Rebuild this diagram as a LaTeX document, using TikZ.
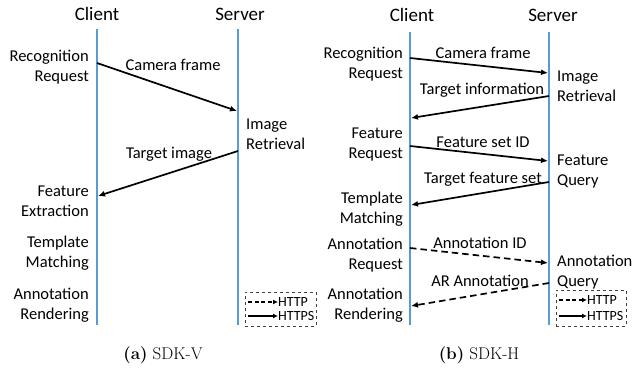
\documentclass[tikz,border=0pt]{standalone}
\usepackage{fontspec}
\setsansfont{Carlito}
\usetikzlibrary{arrows.meta}
\definecolor{lifeblue}{RGB}{91,155,213}
\begin{document}
\begin{tikzpicture}[x=1pt,y=-1pt,
  lifeline/.style={draw=lifeblue,line width=1.9pt},
  msg/.style={draw=black,line width=1.7pt,-{Latex[length=7pt,width=6pt]}},
  httpmsg/.style={msg,dash pattern=on 6.5pt off 4pt},
  lbl/.style={font=\sffamily\fontsize{16.5}{20}\selectfont,inner sep=0pt},
  lblr/.style={lbl,anchor=east,align=right},
  lbll/.style={lbl,anchor=west,align=left},
  ttl/.style={font=\sffamily\fontsize{19}{22}\selectfont,inner sep=0pt},
  legbox/.style={draw=black!75,dashed,line width=0.9pt},
  legarrow/.style={draw=black,line width=1.3pt,-{Latex[length=5pt,width=5pt]}},
  legtext/.style={font=\sffamily\fontsize{14}{16}\selectfont,inner sep=0pt,anchor=west},
  captext/.style={font=\fontsize{17}{20}\selectfont,inner sep=0pt}]
\useasboundingbox (0,0) rectangle (633,373);

% ---------- (a) SDK-V ----------
\node[ttl] (cA) at (97,14) {Client};
\node[ttl] (sA) at (240,14) {Server};
\coordinate (cAt) at (97,29); \coordinate (cAb) at (97,325);
\coordinate (sAt) at (238,29); \coordinate (sAb) at (238,325);
\draw[lifeline] (cAt) -- (cAb);
\draw[lifeline] (sAt) -- (sAb);

\node[lblr] (a1) at (89,67) {Recognition\\Request};
\node[lbll] (a2) at (246,134) {Image\\Retrieval};
\node[lblr] (a3) at (89,201) {Feature\\Extraction};
\node[lblr] (a4) at (89,253) {Template\\Matching};
\node[lblr] (a5) at (89,305) {Annotation\\Rendering};

\coordinate (pA1) at (97,63); \coordinate (qA1) at (237,111);
\coordinate (pA2) at (238,151); \coordinate (qA2) at (98,196);
\draw[msg] (pA1) -- (qA1);
\draw[msg] (pA2) -- (qA2);
\node[lbl] (mA1) at (173,65) {Camera frame};
\node[lbl] (mA2) at (169,154) {Target image};

\node[legbox,minimum width=71pt,minimum height=34pt,inner sep=0pt] (legA) at (280.5,309) {};
\coordinate (lA1s) at (248,302); \coordinate (lA1e) at (278,302);
\coordinate (lA2s) at (248,316); \coordinate (lA2e) at (278,316);
\draw[legarrow,dash pattern=on 4pt off 2.5pt] (lA1s) -- (lA1e);
\draw[legarrow] (lA2s) -- (lA2e);
\node[legtext] (hA1) at (278,302) {HTTP};
\node[legtext] (hA2) at (278,316) {HTTPS};

\node[captext] (capA) at (163,355) {\textbf{(a)} SDK-V};

% ---------- (b) SDK-H ----------
\node[ttl] (cB) at (412,15) {Client};
\node[ttl] (sB) at (553,15) {Server};
\coordinate (cBt) at (410,32); \coordinate (cBb) at (410,325);
\coordinate (sBt) at (549,32); \coordinate (sBb) at (549,325);
\draw[lifeline] (cBt) -- (cBb);
\draw[lifeline] (sBt) -- (sBb);

\node[lblr] (b1) at (403,64) {Recognition\\Request};
\node[lbll] (b2) at (557,86) {Image\\Retrieval};
\node[lblr] (b3) at (403,145) {Feature\\Request};
\node[lbll] (b4) at (557,172) {Feature\\Query};
\node[lblr] (b5) at (403,209) {Template\\Matching};
\node[lblr] (b6) at (403,255) {Annotation\\Request};
\node[lbll] (b7) at (557,272) {Annotation\\Query};
\node[lblr] (b8) at (403,305) {Annotation\\Rendering};

\coordinate (pB1) at (410,58);  \coordinate (qB1) at (548,73);
\coordinate (pB2) at (549,96);  \coordinate (qB2) at (411,118);
\coordinate (pB3) at (410,146); \coordinate (qB3) at (548,161);
\coordinate (pB4) at (549,182); \coordinate (qB4) at (411,205);
\coordinate (pB5) at (410,248); \coordinate (qB5) at (548,263);
\coordinate (pB6) at (549,283); \coordinate (qB6) at (411,306);
\draw[msg] (pB1) -- (qB1);
\draw[msg] (pB2) -- (qB2);
\draw[msg] (pB3) -- (qB3);
\draw[msg] (pB4) -- (qB4);
\draw[httpmsg] (pB5) -- (qB5);
\draw[httpmsg] (pB6) -- (qB6);
\node[lbl] (mB1) at (483,53) {Camera frame};
\node[lbl] (mB2) at (482,90) {Target information};
\node[lbl] (mB3) at (483,142) {Feature set ID};
\node[lbl] (mB4) at (483,179) {Target feature set};
\node[lbl] (mB5) at (480,243) {Annotation ID};
\node[lbl] (mB6) at (480,281) {AR Annotation};

\node[legbox,minimum width=70pt,minimum height=36pt,inner sep=0pt] (legB) at (591,308) {};
\coordinate (lB1s) at (559,300); \coordinate (lB1e) at (587,300);
\coordinate (lB2s) at (559,316); \coordinate (lB2e) at (587,316);
\draw[legarrow,dash pattern=on 4pt off 2.5pt] (lB1s) -- (lB1e);
\draw[legarrow] (lB2s) -- (lB2e);
\node[legtext] (hB1) at (587,300) {HTTP};
\node[legtext] (hB2) at (587,316) {HTTPS};

\node[captext] (capB) at (479,355) {\textbf{(b)} SDK-H};
\end{tikzpicture}
\end{document}
